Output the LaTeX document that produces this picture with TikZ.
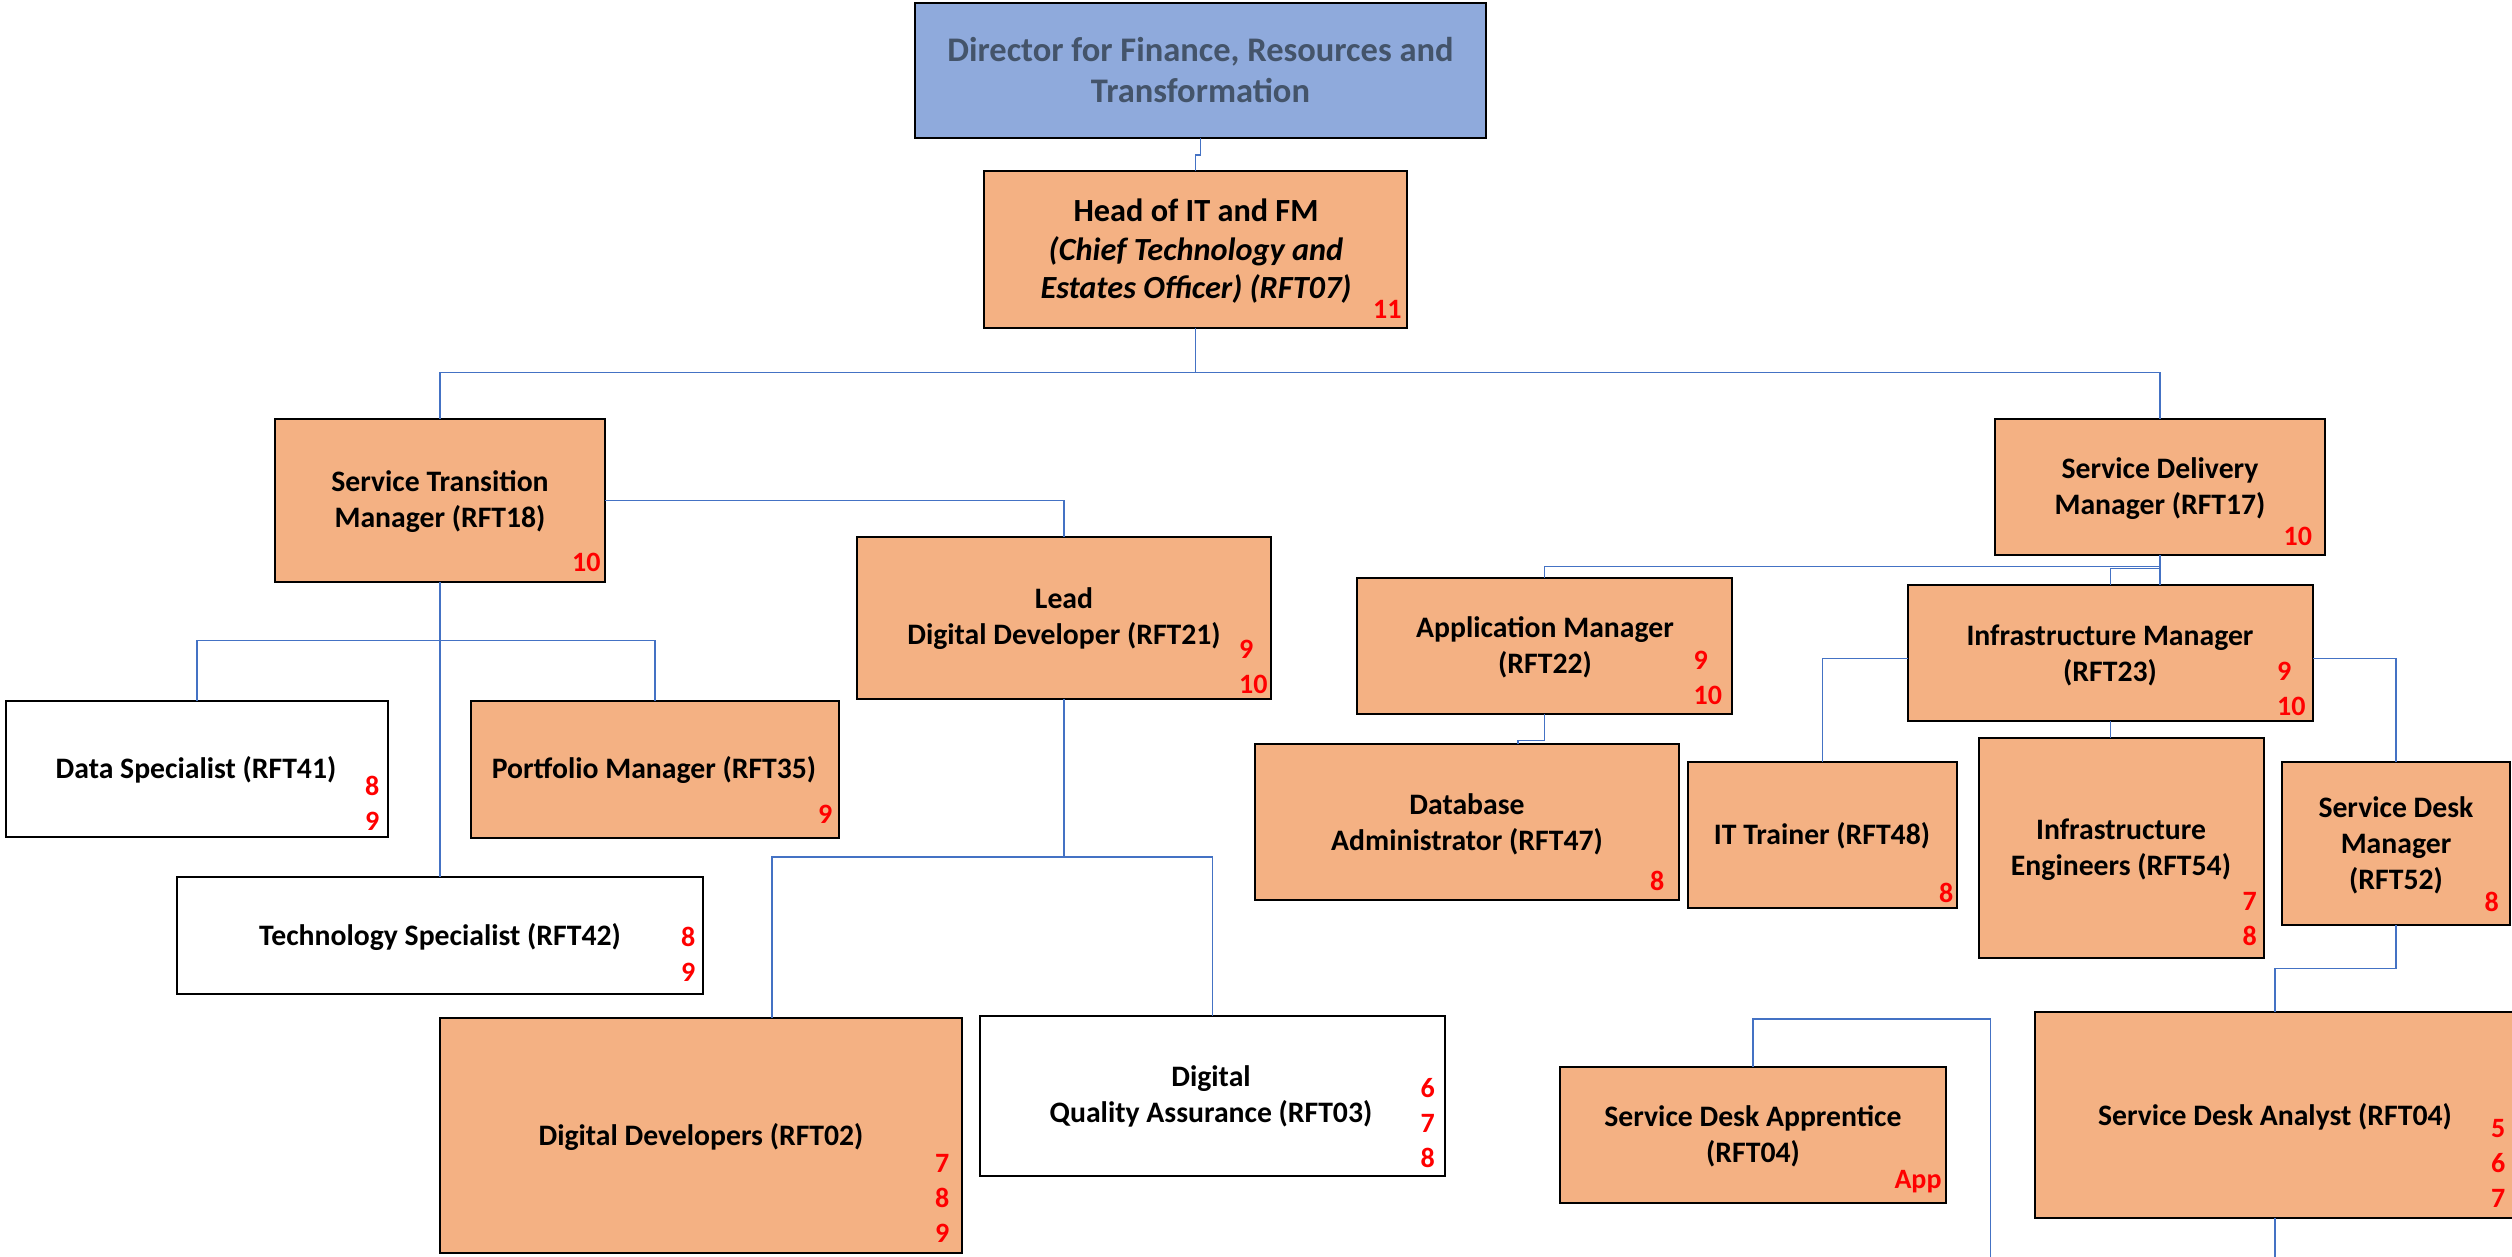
\documentclass[tikz,border=0pt]{standalone}
\usepackage{fontspec}
\setmainfont{Carlito}
\usetikzlibrary{calc}
\definecolor{dirblue}{HTML}{8FAADC}
\definecolor{dirtext}{HTML}{44546A}
\definecolor{orng}{HTML}{F4B183}
\definecolor{lnblue}{HTML}{4472C4}
\definecolor{numred}{HTML}{FF0000}
\newcommand{\obox}[6]{%
  \pgfmathsetmacro{\bw}{#4-#2}\pgfmathsetmacro{\bh}{#5-#3}%
  \pgfmathsetmacro{\bcx}{(#2+#4)/2}\pgfmathsetmacro{\bcy}{(#3+#5)/2}%
  \node[#6, minimum width=\bw pt, minimum height=\bh pt] (#1) at (\bcx,\bcy) {};}
\begin{document}
\begin{tikzpicture}[x=1pt,y=-1pt,
  boxbase/.style={draw=black, line width=2pt, inner sep=0pt, outer sep=0pt, rectangle},
  obx/.style={boxbase, fill=orng},
  wbx/.style={boxbase, fill=white},
  bbx/.style={boxbase, fill=dirblue},
  txt/.style={font=\fontsize{29.7}{36}\selectfont\bfseries, align=center, inner sep=0pt, text=black},
  num/.style={font=\fontsize{28}{35}\selectfont\bfseries, align=left, inner sep=0pt, text=numred, anchor=west},
  conn/.style={draw=lnblue, line width=1.6pt}]
\useasboundingbox (0,0) rectangle (2512,1257);
\fill[white] (0,0) rectangle (2512,1257);
\clip (0,0) rectangle (2512,1257);

% boxes
\obox{dir}{915}{3}{1486}{138}{bbx}
\obox{head}{984}{171}{1407}{328}{obx}
\obox{stm}{275}{419}{605}{582}{obx}
\obox{lead}{857}{537}{1271}{699}{obx}
\obox{ds}{6}{701}{388}{837}{wbx}
\obox{pm}{471}{701}{839}{838}{obx}
\obox{ts}{177}{877}{703}{994}{wbx}
\obox{dd}{440}{1018}{962}{1253}{obx}
\obox{dqa}{980}{1016}{1445}{1176}{wbx}
\obox{sdm}{1995}{419}{2325}{555}{obx}
\obox{app}{1357}{578}{1732}{714}{obx}
\obox{dba}{1255}{744}{1679}{900}{obx}
\obox{im}{1908}{585}{2313}{721}{obx}
\obox{itt}{1688}{762}{1957}{908}{obx}
\obox{ie}{1979}{738}{2264}{958}{obx}
\obox{sdk}{2282}{762}{2510}{925}{obx}
\obox{sda}{2035}{1012}{2515}{1218}{obx}
\obox{apr}{1560}{1067}{1946}{1203}{obx}

% connectors
\coordinate (sdaend) at (2275,1262);
\coordinate (aprend) at (1990.5,1262);
\coordinate (stmj) at (440,640.4);
\draw[conn] (dir.south) -- ++(0,17) -| (head.north);
\draw[conn] (head.south) -- ++(0,44.4) -| (stm.north);
\draw[conn] (head.south) -- ++(0,44.4) -| (sdm.north);
\draw[conn] (stm.east) -| (lead.north);
\draw[conn] (stm.south) -- (ts.north);
\draw[conn] (ds.north) |- (stmj) -| (pm.north);
\draw[conn] (lead.south) -- ++(0,158) coordinate (lj) -| (dqa.north);
\draw[conn] (lj) -| ([xshift=71pt]dd.north);
\draw[conn] (sdm.south) -- ++(0,11.5) -| (app.north);
\draw[conn] (sdm.south) -- (sdm.south |- im.north);
\draw[conn] (sdm.south) -- ++(0,13.3) -| (im.north);
\draw[conn] (app.south) -- ++(0,26.5) -| ([xshift=51pt]dba.north);
\draw[conn] ([yshift=-5.6pt]im.west) -| (itt.north);
\draw[conn] ([yshift=-5.6pt]im.east) -| (sdk.north);
\draw[conn] (im.south) -- (im.south |- ie.north);
\draw[conn] (sdk.south) -- ++(0,43.3) -| (sda.north);
\draw[conn] (sda.south) -- (sdaend);
\draw[conn] (apr.north) -- ++(0,-48.3) -| (aprend);

% texts
\node[txt, text=dirtext, font=\fontsize{34.5}{41}\selectfont\bfseries] (dirt) at (1200.5,70.5) {Director for Finance, Resources and\\Transformation};
\node[txt, font=\fontsize{32.3}{38.5}\selectfont\bfseries] (headt) at (1196,251.5) {Head of IT and FM\\\textit{(Chief Technology and}\\\textit{Estates Officer) (RFT07)}};
\node[num] (headn) at (1373,309) {11};
\node[txt] (stmt) at (440,502) {Service Transition\\Manager (RFT18)};
\node[num] (stmn) at (572,562) {10};
\node[txt] (leadt) at (1064,618.5) {Lead\\Digital Developer (RFT21)};
\node[num] (leadn) at (1239,667) {9\\10};
\node[txt] (dst) at (196,770) {Data Specialist (RFT41)};
\node[num] (dsn) at (365,803) {8\\9};
\node[txt] (pmt) at (654,770) {Portfolio Manager (RFT35)};
\node[num] (pmn) at (818,814) {9};
\node[txt] (tst) at (440,937) {Technology Specialist (RFT42)};
\node[num] (tsn) at (681,954) {8\\9};
\node[txt] (ddt) at (701,1137) {Digital Developers (RFT02)};
\node[num] (ddn) at (935,1198.8) {7\\8\\9};
\node[txt] (dqat) at (1211,1096.5) {Digital\\Quality Assurance (RFT03)};
\node[num] (dqan) at (1420.5,1122.7) {6\\7\\8};
\node[txt] (sdmt) at (2160,488.5) {Service Delivery\\Manager (RFT17)};
\node[num] (sdmn) at (2283.5,536) {10};
\node[txt] (appt) at (1545,647) {Application Manager\\(RFT22)};
\node[num] (appn) at (1693.5,678) {9\\10};
\node[txt] (imt) at (2110,655) {Infrastructure Manager\\(RFT23)};
\node[num] (imn) at (2277,689) {9\\10};
\node[txt] (dbat) at (1467,824) {Database\\Administrator (RFT47)};
\node[num] (dban) at (1650,881) {8};
\node[txt] (ittt) at (1822,836) {IT Trainer (RFT48)};
\node[num] (ittn) at (1939,892.8) {8};
\node[txt] (iet) at (2121,849.7) {Infrastructure\\Engineers (RFT54)};
\node[num] (ien) at (2242.5,918.6) {7\\8};
\node[txt] (sdkt) at (2396,845.3) {Service Desk\\Manager\\(RFT52)};
\node[num] (sdkn) at (2484.4,902.3) {8};
\node[txt] (sdat) at (2275,1116.7) {Service Desk Analyst (RFT04)};
\node[num] (sdan) at (2491,1163.3) {5\\6\\7};
\node[txt] (aprt) at (1753,1136.3) {Service Desk Apprentice\\(RFT04)};
\node[num] (aprn) at (1894.3,1181.7) {App};
\end{tikzpicture}
\end{document}
